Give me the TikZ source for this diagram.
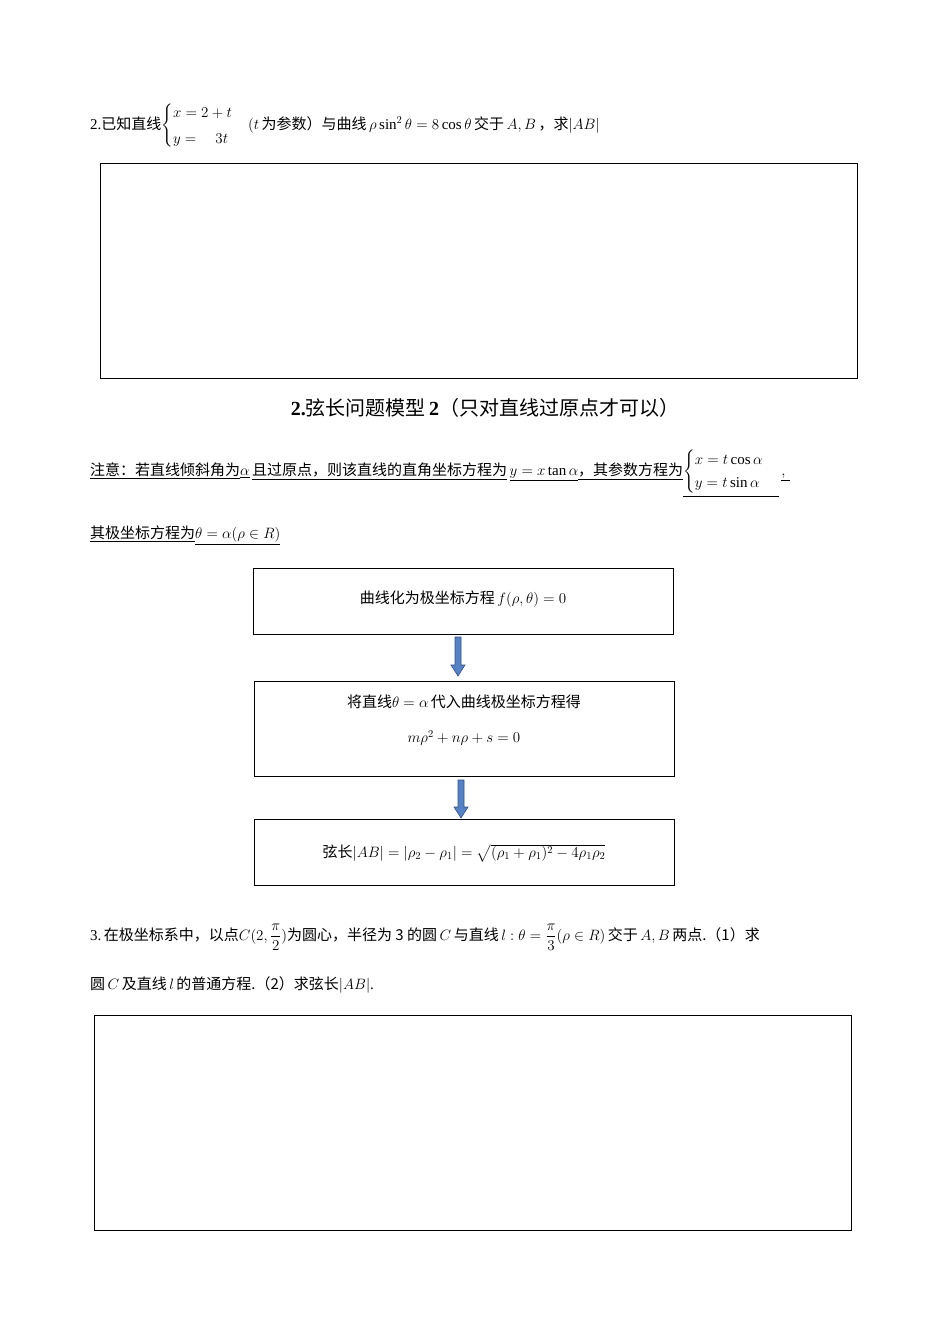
\documentclass[tikz,border=0pt]{standalone}
\usepackage{fix-cm}
\usepackage{fontspec}
\usepackage{amsmath}
\setmainfont{Liberation Serif}
\newfontfamily\cjk{Noto Sans CJK SC}
\begin{document}
\begin{tikzpicture}[x=1pt,y=-1pt,
  box/.style={draw,line width=0.8pt},
  txt/.style={anchor=west,inner sep=0pt,font=\fontsize{15}{18}\selectfont},
  barrow/.style={fill={rgb,255:red,84;green,130;blue,196},draw={rgb,255:red,50;green,80;blue,130},line width=0.6pt}]
\useasboundingbox (0,0) rectangle (950,1344);
% problem 2
\node[txt] (p2) at (90,126) {2.{\cjk 已知直线}$\begin{cases}x=2+t\\[4pt] y=\quad 3t\end{cases}$$(t$\,{\cjk 为参数）与曲线}\,$\rho\sin^2\theta=8\cos\theta$\,{\cjk 交于}\,$A,B$\,{\cjk ，求}$\left|AB\right|$};
\draw[box] (100,163) rectangle (857,378);
% title
\node[inner sep=0pt,font=\fontsize{20}{24}\selectfont] (title) at (485,408) {\textbf{2.}{\cjk 弦长问题模型}\,\textbf{2}{\cjk （只对直线过原点才可以）}};
% note
\node[txt] (n1) at (90,473) {\underline{\cjk 注意：若直线倾斜角为}$\underline{\alpha}$\,\underline{\cjk 且过原点，则该直线的直角坐标方程为}\,$\underline{y=x\tan\alpha}$\underline{\cjk ，其参数方程为}$\underline{\begin{cases}x=t\cos\alpha\\[2pt] y=t\sin\alpha\end{cases}}$\,$\underline{,\;}$};
\node[txt] (n2) at (90,535) {\underline{\cjk 其极坐标方程为}$\underline{\theta=\alpha(\rho\in R)}$};
% flow
\draw[box] (253,568) rectangle (673,634);
\node[txt,anchor=center] (f1) at (463,599) {{\cjk 曲线化为极坐标方程}\,$f(\rho,\theta)=0$};
\draw[box] (254,681) rectangle (674,776);
\node[txt,anchor=center] (f2a) at (464,702) {{\cjk 将直线}$\theta=\alpha$\,{\cjk 代入曲线极坐标方程得}};
\node[txt,anchor=center] (f2b) at (464,738) {$m\rho^2+n\rho+s=0$};
\draw[box] (254,819) rectangle (674,885);
\node[txt,anchor=center] (f3) at (464,853) {{\cjk 弦长}$\left|AB\right|=\left|\rho_2-\rho_1\right|=\sqrt{(\rho_1+\rho_1)^2-4\rho_1\rho_2}$};
\draw[barrow] (455,637) -- (461,637) -- (461,665) -- (465,665) -- (458,676) -- (451,665) -- (455,665) -- cycle;
\draw[barrow] (458,780) -- (464,780) -- (464,807) -- (468,807) -- (461,818) -- (454,807) -- (458,807) -- cycle;
% problem 3
\node[txt] (p3a) at (90,937) {3.\,{\cjk 在极坐标系中，以点}$C(2,\dfrac{\pi}{2})${\cjk 为圆心，半径为 3 的圆}\,$C$\,{\cjk 与直线}\,$l:\theta=\dfrac{\pi}{3}(\rho\in R)$\,{\cjk 交于}\,$A,B$\,{\cjk 两点.（1）求}};
\node[txt] (p3b) at (90,985) {{\cjk 圆}\,$C$\,{\cjk 及直线}\,$l$\,{\cjk 的普通方程.（2）求弦长}$\left|AB\right|$.};
\draw[box] (94,1015) rectangle (851,1230);
\end{tikzpicture}
\end{document}
